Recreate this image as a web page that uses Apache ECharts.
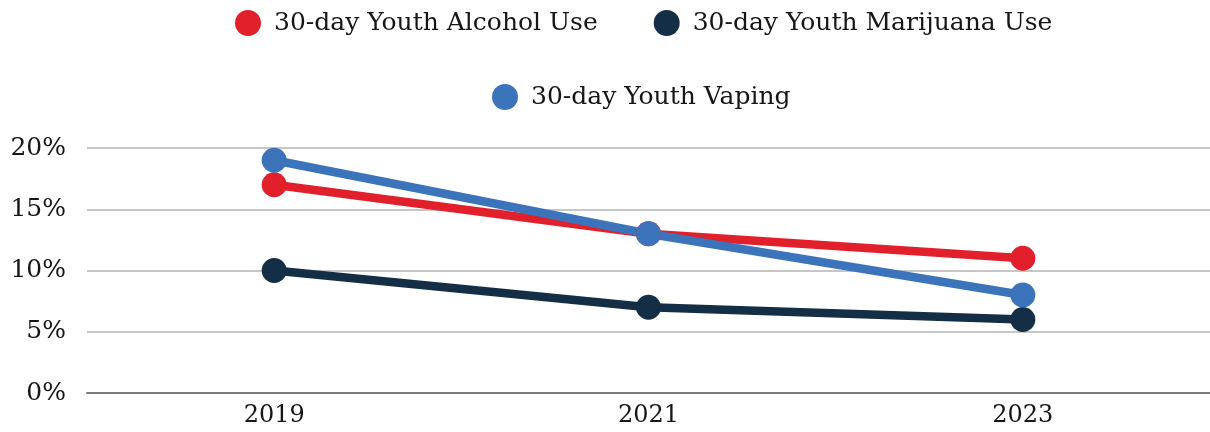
<!DOCTYPE html>
<html>
<head>
<meta charset="utf-8">
<script src="https://cdn.jsdelivr.net/npm/echarts@6/dist/echarts.min.js"></script>
<style>
  html, body { margin: 0; padding: 0; background: #ffffff; }
  #chart { width: 1210px; height: 432px; }
</style>
</head>
<body>
<div id="chart"></div>
<script>
// Survey years on the x axis
const years = ['2019', '2021', '2023'];

// Past-30-day use among youth, in percent
const alcoholUse = [17, 13, 11];
const marijuanaUse = [10, 7, 6];
const vapingUse = [19, 13, 8];

const seriesNames = {
  alcohol: '30-day Youth Alcohol Use',
  marijuana: '30-day Youth Marijuana Use',
  vaping: '30-day Youth Vaping'
};

const colors = {
  alcohol: '#E2202B',
  marijuana: '#142E46',
  vaping: '#3B74BA'
};

const fontFamily = '"DejaVu Serif", Georgia, serif';
const textColor = '#161616';

const chart = echarts.init(document.getElementById('chart'), null, { renderer: 'canvas' });

function lineSeries(name, data, color) {
  return {
    name: name,
    type: 'line',
    data: data,
    color: color,
    symbol: 'circle',
    symbolSize: 25,
    showSymbol: true,
    lineStyle: { width: 8.5, color: color },
    itemStyle: { color: color },
    emphasis: { disabled: true },
    animation: false
  };
}

const legendCommon = {
  icon: 'circle',
  itemWidth: 26,
  itemHeight: 26,
  itemGap: 56,
  textStyle: { fontFamily: fontFamily, fontSize: 25, color: textColor, padding: [0, 0, 0, 8] },
  selectedMode: false
};

chart.setOption({
  backgroundColor: '#ffffff',
  legend: [
    Object.assign({ top: 5, left: 230, data: [seriesNames.alcohol, seriesNames.marijuana] }, legendCommon),
    Object.assign({ top: 79, left: 487, data: [seriesNames.vaping] }, legendCommon)
  ],
  grid: { left: 87, right: -7, top: 148, bottom: 39, containLabel: false },
  xAxis: {
    type: 'category',
    data: years,
    boundaryGap: true,
    axisLine: { show: true, lineStyle: { color: '#7a7a7a', width: 2 } },
    axisTick: { show: false },
    axisLabel: { fontFamily: fontFamily, fontSize: 24, color: textColor, margin: 11 }
  },
  yAxis: {
    type: 'value',
    min: 0,
    max: 20,
    interval: 5,
    axisLine: { show: false },
    axisTick: { show: false },
    splitLine: { lineStyle: { color: '#c6c6c6', width: 2 } },
    axisLabel: {
      fontFamily: fontFamily, fontSize: 25, color: textColor, margin: 21,
      formatter: v => v + '%'
    }
  },
  series: [
    lineSeries(seriesNames.alcohol, alcoholUse, colors.alcohol),
    lineSeries(seriesNames.marijuana, marijuanaUse, colors.marijuana),
    lineSeries(seriesNames.vaping, vapingUse, colors.vaping)
  ]
});
</script>
</body>
</html>
